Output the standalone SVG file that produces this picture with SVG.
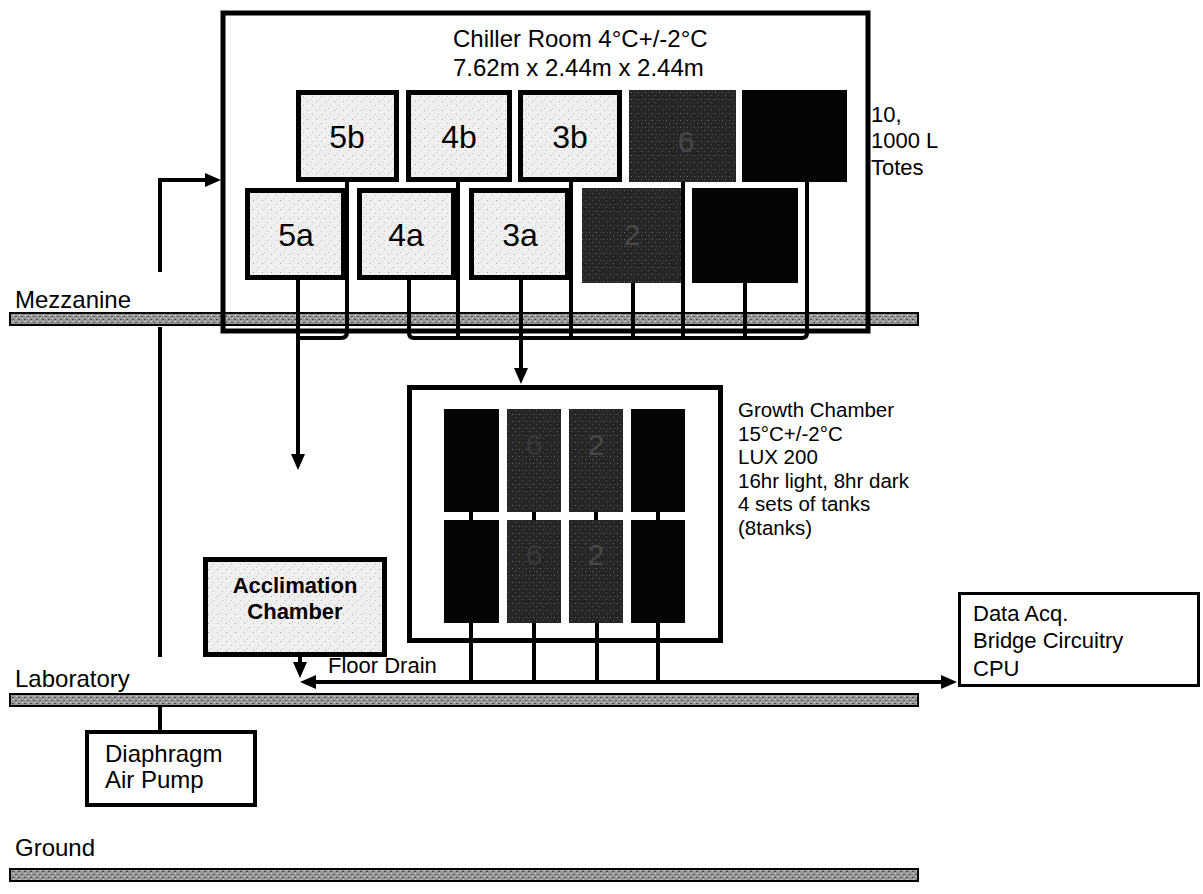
<svg xmlns="http://www.w3.org/2000/svg" width="1203" height="894" viewBox="0 0 1203 894">
<style>
text{font-family:"Liberation Sans",Arial,sans-serif;fill:#000}
.lbl{font-size:24px}
.sm{font-size:22px}
.gc{font-size:20.5px}
.tote{font-size:32px;text-anchor:middle}
.faint{font-size:30px;text-anchor:middle;fill:#484848}
.lt{fill:url(#lightStip);stroke:#000;stroke-width:5}
.dk{fill:url(#darkStip);stroke:none}
.bk{fill:#050505;stroke:none}
.bar{fill:url(#barStip);stroke:#000;stroke-width:2}
.box{fill:#fff;stroke:#000}
.ln{fill:none;stroke:#000;stroke-width:4}
</style>
<defs>
<pattern id="lightStip" width="9" height="9" patternUnits="userSpaceOnUse">
<rect width="9" height="9" fill="#efefef"/>
<rect x="1" y="2" width="1" height="1" fill="#a8a8a8"/>
<rect x="6" y="6" width="1" height="1" fill="#bbbbbb"/>
<rect x="4" y="0" width="1" height="1" fill="#c8c8c8"/>
</pattern>
<pattern id="darkStip" width="7" height="7" patternUnits="userSpaceOnUse">
<rect width="7" height="7" fill="#262626"/>
<rect x="1" y="1" width="1" height="1" fill="#6a6a6a"/>
<rect x="4" y="4" width="1" height="1" fill="#555"/>
<rect x="5" y="1" width="1" height="1" fill="#444"/>
</pattern>
<pattern id="barStip" width="6" height="6" patternUnits="userSpaceOnUse">
<rect width="6" height="6" fill="#989898"/>
<rect x="0" y="1" width="2" height="1" fill="#4a4a4a"/>
<rect x="3" y="4" width="2" height="1" fill="#5a5a5a"/>
<rect x="4" y="0" width="1" height="1" fill="#dadada"/>
<rect x="1" y="3" width="1" height="1" fill="#e0e0e0"/>
</pattern>
<marker id="ah" viewBox="0 0 16 14" refX="2" refY="7" markerWidth="16" markerHeight="14" markerUnits="userSpaceOnUse" orient="auto-start-reverse">
<path d="M0,0 L16,7 L0,14 z" fill="#000"/>
</marker>
</defs>

<rect x="0" y="0" width="1203" height="894" fill="#fff"/>

<g id="chiller-room">
<rect x="223" y="13" width="645" height="318" fill="#fff"/>
</g>

<g id="floors">
<rect class="bar" x="10" y="313" width="908" height="12"/>
<text class="lbl" x="15" y="308">Mezzanine</text>
<rect class="bar" x="10" y="694" width="908" height="12"/>
<text class="lbl" x="15" y="687">Laboratory</text>
<rect class="bar" x="10" y="869" width="908" height="12"/>
<text class="lbl" x="15" y="856">Ground</text>
</g>

<g id="chiller-room-outline">
<rect x="223" y="13" width="645" height="318" fill="none" stroke="#000" stroke-width="5"/>
<text class="lbl" x="453" y="47">Chiller Room 4°C+/-2°C</text>
<text class="lbl" x="453" y="76">7.62m x 2.44m x 2.44m</text>
</g>

<g id="totes-label">
<text class="sm" x="871" y="122">10,</text>
<text class="sm" x="871" y="148">1000 L</text>
<text class="sm" x="871" y="175">Totes</text>
</g>

<g id="tote-5b"><rect class="lt" x="298.5" y="92.5" width="98" height="87"/><text class="tote" x="347" y="148">5b</text></g>
<g id="tote-4b"><rect class="lt" x="408.5" y="92.5" width="101" height="87"/><text class="tote" x="459" y="148">4b</text></g>
<g id="tote-3b"><rect class="lt" x="520.5" y="92.5" width="99" height="87"/><text class="tote" x="570" y="148">3b</text></g>
<g id="tote-6"><rect class="dk" x="629" y="90" width="107" height="92"/><text class="faint" x="686" y="152">6</text></g>
<g id="tote-1b"><rect class="bk" x="742" y="90" width="105" height="92"/></g>

<g id="tote-5a"><rect class="lt" x="247.5" y="190.5" width="96" height="87"/><text class="tote" x="296" y="246">5a</text></g>
<g id="tote-4a"><rect class="lt" x="359.5" y="190.5" width="94" height="87"/><text class="tote" x="406" y="246">4a</text></g>
<g id="tote-3a"><rect class="lt" x="471.5" y="190.5" width="96" height="87"/><text class="tote" x="520" y="246">3a</text></g>
<g id="tote-2"><rect class="dk" x="582" y="188" width="100" height="95"/><text class="faint" x="632" y="245">2</text></g>
<g id="tote-1a"><rect class="bk" x="692" y="188" width="106" height="95"/></g>

<g id="growth-chamber">
<rect x="409.5" y="387.5" width="311" height="253" fill="#fff" stroke="#000" stroke-width="5"/>
<rect class="bk" x="444" y="409" width="55" height="103"/>
<rect class="dk" x="507" y="409" width="54" height="103"/>
<rect class="dk" x="569" y="409" width="54" height="103"/>
<rect class="bk" x="631" y="409" width="54" height="103"/>
<rect class="bk" x="444" y="520" width="55" height="103"/>
<rect class="dk" x="507" y="520" width="54" height="103"/>
<rect class="dk" x="569" y="520" width="54" height="103"/>
<rect class="bk" x="631" y="520" width="54" height="103"/>
<text class="faint" x="534" y="455" style="fill:#383838">6</text>
<text class="faint" x="596" y="455">2</text>
<text class="faint" x="534" y="565" style="fill:#383838">6</text>
<text class="faint" x="596" y="565">2</text>
</g>

<g id="growth-label">
<text class="gc" x="738" y="417">Growth Chamber</text>
<text class="gc" x="738" y="440.5">15°C+/-2°C</text>
<text class="gc" x="738" y="464">LUX 200</text>
<text class="gc" x="738" y="487.5">16hr light, 8hr dark</text>
<text class="gc" x="738" y="511">4 sets of tanks</text>
<text class="gc" x="738" y="534.5">(8tanks)</text>
</g>

<g id="acclimation-chamber">
<rect class="lt" x="205.5" y="559.5" width="179" height="95"/>
<text x="295" y="593" style="font-size:22px;font-weight:bold;text-anchor:middle">Acclimation</text>
<text x="295" y="619" style="font-size:22px;font-weight:bold;text-anchor:middle">Chamber</text>
</g>

<g id="diaphragm-air-pump">
<rect class="box" x="87" y="732" width="168" height="73" stroke-width="4"/>
<text class="lbl" x="105" y="762">Diaphragm</text>
<text class="lbl" x="105" y="788">Air Pump</text>
</g>

<g id="data-acq">
<rect class="box" x="959.5" y="593.5" width="239" height="92" stroke-width="3"/>
<text class="sm" x="973" y="621">Data Acq.</text>
<text class="sm" x="973" y="648">Bridge Circuitry</text>
<text class="sm" x="973" y="676">CPU</text>
</g>

<g id="floor-drain-label">
<text class="sm" x="328" y="673">Floor Drain</text>
</g>

<g id="connectors">
<path class="ln" d="M160,272 V180 H207" marker-end="url(#ah)"/>
<path class="ln" d="M160,327 V657"/>
<path class="ln" d="M160,706 V731"/>
<path class="ln" d="M347,182 V332 Q347,338 341,338 H298"/>
<path class="ln" d="M298,280 V456" marker-end="url(#ah)"/>
<path class="ln" d="M409,280 V333 Q409,338 414,338 H802 Q807,338 807,333 V182"/>
<path class="ln" d="M458,182 V338"/>
<path class="ln" d="M521,280 V370" marker-end="url(#ah)"/>
<path class="ln" d="M571,182 V338"/>
<path class="ln" d="M633,283 V338"/>
<path class="ln" d="M683,182 V338"/>
<path class="ln" d="M745,283 V338"/>
<path class="ln" d="M300,657 V664" marker-end="url(#ah)"/>
<path class="ln" d="M314,682 H943" marker-start="url(#ah)" marker-end="url(#ah)"/>
<path class="ln" d="M471,512 V520 M534,512 V520 M596,512 V520 M658,512 V520"/>
<path class="ln" d="M471,623 V682 M534,623 V682 M597,623 V682 M658,623 V682"/>
</g>
</svg>
